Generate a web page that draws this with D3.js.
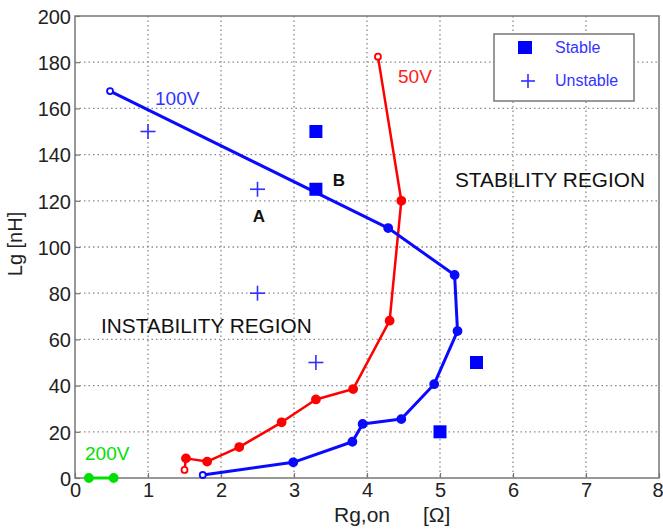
<!DOCTYPE html>
<html>
<head>
<meta charset="utf-8">
<script src="https://cdn.jsdelivr.net/npm/d3@7"></script>
<style>
  html, body { margin: 0; padding: 0; background: #fff; }
  svg { display: block; font-family: Arial, "Liberation Sans", sans-serif; }
</style>
</head>
<body>
<svg id="chart" width="663" height="531"></svg>
<script>
// Gate-loop boundary curves: Rg,on [Ω] vs Lg [nH]
const rg100 = [0.48, 4.29, 5.20, 5.24, 4.92, 4.47, 3.94, 3.80, 2.99, 1.75];
const lg100 = [167.5, 108.2, 87.9, 63.6, 40.6, 25.5, 23.4, 15.7, 6.8, 1.3];

const rg50 = [4.15, 4.47, 4.31, 3.81, 3.30, 2.83, 2.25, 1.81, 1.52, 1.50];
const lg50 = [182.4, 120.0, 68.1, 38.5, 34.0, 24.1, 13.4, 7.1, 8.5, 3.5];

const rg200 = [0.19, 0.53];
const lg200 = [0.0, 0.0];

// Test points
const stableRg = [3.3, 3.3, 5.5, 5.0];
const stableLg = [150, 125, 50, 20];
const unstableRg = [1.0, 2.5, 2.5, 3.3];
const unstableLg = [150, 125, 80, 50];

const xTicks = [0, 1, 2, 3, 4, 5, 6, 7, 8];
const yTicks = [0, 20, 40, 60, 80, 100, 120, 140, 160, 180, 200];

const svg = d3.select("#chart");
const plotL = 75, plotR = 659, plotT = 16, plotB = 478;

const x = d3.scaleLinear().domain([0, 8]).range([plotL, plotR]);
const y = d3.scaleLinear().domain([0, 200]).range([plotB, plotT]);

// dotted grid
const grid = svg.append("g");
grid.selectAll("line.gx").data(xTicks.slice(1, -1)).join("line")
  .attr("x1", d => x(d)).attr("x2", d => x(d))
  .attr("y1", plotT).attr("y2", plotB)
  .attr("stroke", "#8a8a8a").attr("stroke-width", 1.3).attr("stroke-dasharray", "1.5,3");
grid.selectAll("line.gy").data(yTicks.slice(1, -1)).join("line")
  .attr("x1", plotL).attr("x2", plotR)
  .attr("y1", d => y(d)).attr("y2", d => y(d))
  .attr("stroke", "#8a8a8a").attr("stroke-width", 1.3).attr("stroke-dasharray", "1.5,3");

// axes
const xAxis = d3.axisBottom(x).tickValues(xTicks).tickSize(-5).tickPadding(5);
const yAxis = d3.axisLeft(y).tickValues(yTicks).tickSize(-5).tickPadding(4);

const gx = svg.append("g").attr("transform", `translate(0,${plotB})`).call(xAxis);
const gy = svg.append("g").attr("transform", `translate(${plotL},0)`).call(yAxis);
[gx, gy].forEach(g => {
  g.select(".domain").remove();
  g.selectAll(".tick line").attr("stroke", "#777").attr("stroke-width", 1.2);
  g.selectAll(".tick text").attr("fill", "#222").style("font-size", "20px")
    .style("font-family", "Arial, 'Liberation Sans', sans-serif");
});
gy.selectAll(".tick text").attr("dy", "0.36em");
gx.selectAll(".tick text").attr("dy", "0.71em");
// keep the last x label inside the page edge
gx.selectAll(".tick text").filter(d => d === 8)
  .attr("text-anchor", "end").attr("x", 663 - plotR);

// plot frame
svg.append("rect").attr("x", plotL).attr("y", plotT)
  .attr("width", plotR - plotL).attr("height", plotB - plotT)
  .attr("fill", "none").attr("stroke", "#777").attr("stroke-width", 1.5);

// axis titles
svg.append("text").attr("x", 334).attr("y", 522).attr("fill", "#222")
  .style("font-size", "21px").text("Rg,on");
svg.append("text").attr("x", 423).attr("y", 522).attr("fill", "#222")
  .style("font-size", "21px").text("[Ω]");
svg.append("text").attr("transform", "translate(22,244) rotate(-90)")
  .attr("text-anchor", "middle").attr("fill", "#222")
  .style("font-size", "20px").text("Lg [nH]");

// curves
const line = d3.line().x(d => x(d[0])).y(d => y(d[1]));
function curve(rg, lg, color, width, openEnds) {
  const pts = rg.map((r, i) => [r, lg[i]]);
  svg.append("path").datum(pts).attr("d", line)
    .attr("fill", "none").attr("stroke", color).attr("stroke-width", width)
    .attr("stroke-linejoin", "round");
  svg.append("g").selectAll("circle").data(pts).join("circle")
    .attr("cx", d => x(d[0])).attr("cy", d => y(d[1]))
    .attr("r", (d, i) => (openEnds && (i === 0 || i === pts.length - 1)) ? 3 : 4)
    .attr("fill", (d, i) => (openEnds && (i === 0 || i === pts.length - 1)) ? "#fff" : color)
    .attr("stroke", color).attr("stroke-width", 1.8);
}
curve(rg50, lg50, "#ff0000", 2.5, true);
curve(rg100, lg100, "#0a0aff", 3, true);
curve(rg200, lg200, "#00e000", 3, false);

// stable / unstable markers
const sq = 13;
svg.append("g").selectAll("rect").data(stableRg.map((r, i) => [r, stableLg[i]])).join("rect")
  .attr("x", d => x(d[0]) - sq / 2).attr("y", d => y(d[1]) - sq / 2)
  .attr("width", sq).attr("height", sq).attr("fill", "#0000ff");
const plus = 7.5;
const pg = svg.append("g").attr("stroke", "#3030ff").attr("stroke-width", 1.6);
unstableRg.forEach((r, i) => {
  const cx = x(r), cy = y(unstableLg[i]);
  pg.append("line").attr("x1", cx - plus).attr("x2", cx + plus).attr("y1", cy).attr("y2", cy);
  pg.append("line").attr("x1", cx).attr("x2", cx).attr("y1", cy - plus).attr("y2", cy + plus);
});

// curve labels
svg.append("text").attr("x", 155).attr("y", 105).attr("fill", "#3333ff")
  .style("font-size", "19px").text("100V");
svg.append("text").attr("x", 398).attr("y", 83).attr("fill", "#ff2020")
  .style("font-size", "19px").text("50V");
svg.append("text").attr("x", 85).attr("y", 460).attr("fill", "#00e000")
  .style("font-size", "19px").text("200V");

// point and region labels
svg.append("text").attr("x", 259).attr("y", 222).attr("text-anchor", "middle").attr("fill", "#111")
  .style("font-size", "17px").style("font-weight", "bold").text("A");
svg.append("text").attr("x", 339).attr("y", 186).attr("text-anchor", "middle").attr("fill", "#111")
  .style("font-size", "17px").style("font-weight", "bold").text("B");
svg.append("text").attr("x", 455).attr("y", 187).attr("fill", "#111")
  .style("font-size", "20.8px").text("STABILITY REGION");
svg.append("text").attr("x", 101).attr("y", 333).attr("fill", "#111")
  .style("font-size", "20.8px").text("INSTABILITY REGION");

// legend
const lgd = svg.append("g");
lgd.append("rect").attr("x", 494).attr("y", 34).attr("width", 140).attr("height", 67)
  .attr("fill", "#fff").attr("stroke", "#777").attr("stroke-width", 1.5);
lgd.append("rect").attr("x", 518).attr("y", 41).attr("width", 14).attr("height", 13).attr("fill", "#0000ff");
lgd.append("line").attr("x1", 521).attr("x2", 535).attr("y1", 81).attr("y2", 81)
  .attr("stroke", "#3030ff").attr("stroke-width", 1.6);
lgd.append("line").attr("x1", 528).attr("x2", 528).attr("y1", 74).attr("y2", 88)
  .attr("stroke", "#3030ff").attr("stroke-width", 1.6);
lgd.append("text").attr("x", 555).attr("y", 53).attr("fill", "#3333ff")
  .style("font-size", "16px").text("Stable");
lgd.append("text").attr("x", 555).attr("y", 86).attr("fill", "#3333ff")
  .style("font-size", "16px").text("Unstable");
</script>
</body>
</html>
